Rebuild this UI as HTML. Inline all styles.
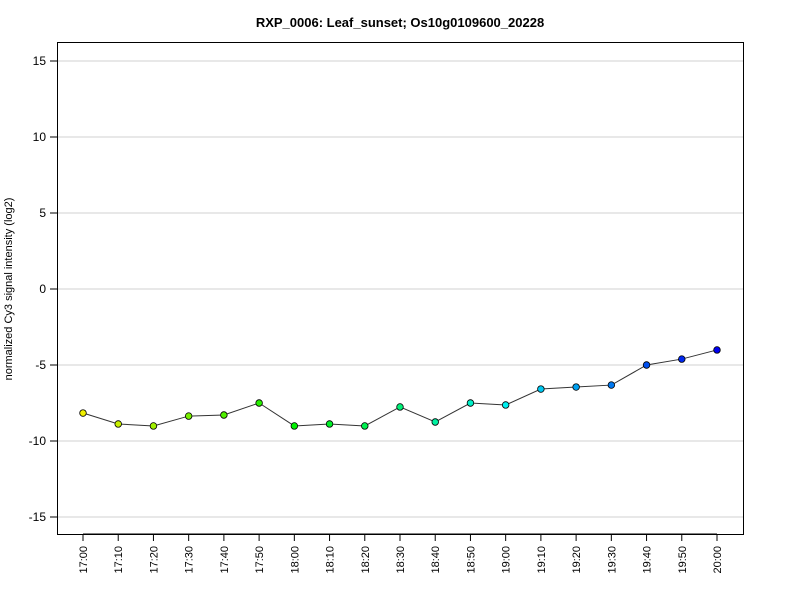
<!DOCTYPE html>
<html><head><meta charset="utf-8"><style>
body{margin:0;background:#fff;font-family:"Liberation Sans",sans-serif;}
</style></head><body>
<svg id="chart" width="800" height="600" xmlns="http://www.w3.org/2000/svg" font-family="Liberation Sans, sans-serif">
<text x="400" y="27" text-anchor="middle" font-size="13" font-weight="bold">RXP_0006: Leaf_sunset; Os10g0109600_20228</text>
<text transform="translate(12,289) rotate(-90)" text-anchor="middle" font-size="11">normalized Cy3 signal intensity (log2)</text>
<g id="grid"></g>
<g id="yaxis"></g>
<g id="xaxis"></g>
<g id="series"></g>
<rect x="57.5" y="42.5" width="686" height="492" fill="none" stroke="#000"/>
</svg>
<script>
const categories=["17:00","17:10","17:20","17:30","17:40","17:50","18:00","18:10","18:20","18:30","18:40","18:50","19:00","19:10","19:20","19:30","19:40","19:50","20:00"];
const values=[-8.16,-8.88,-9.01,-8.36,-8.29,-7.5,-9.01,-8.88,-9.01,-7.76,-8.75,-7.5,-7.63,-6.58,-6.45,-6.32,-5.0,-4.61,-4.01];
const yTicks=[15,10,5,0,-5,-10,-15];
const NS="http://www.w3.org/2000/svg";
function yS(v){return 289-v*15.2;}
function xS(i){return 83+i*(634/(categories.length-1));}
function mk(t,a,p){const e=document.createElementNS(NS,t);for(const k in a)e.setAttribute(k,a[k]);p.appendChild(e);return e;}
const grid=document.getElementById('grid'),ya=document.getElementById('yaxis'),xa=document.getElementById('xaxis'),se=document.getElementById('series');
yTicks.forEach(v=>{const y=yS(v);
const g=mk('line',{x1:57,x2:743,y1:y,y2:y,stroke:'#d0d0d0'},grid);


const t=mk('line',{x1:50,x2:57,y1:y,y2:y,stroke:'#000'},ya);


const l=mk('text',{x:46,y:y+4,'text-anchor':'end','font-size':12},ya);l.textContent=v;


});
mk('line',{x1:xS(0),x2:xS(categories.length-1),y1:534,y2:534,stroke:'#000'},xa);
categories.forEach((c,i)=>{const x=xS(i);
const t=mk('line',{x1:x,x2:x,y1:534,y2:541,stroke:'#000'},xa);


const l=mk('text',{transform:`translate(${x+4},546) rotate(-90)`,'text-anchor':'end','font-size':11},xa);l.textContent=c;


});
const line=mk('polyline',{points:values.map((v,i)=>xS(i)+','+yS(v)).join(' '),fill:'none',stroke:'#333'},se);


values.forEach((v,i)=>{const h=60+180*i/(values.length-1);
const c=mk('circle',{cx:xS(i),cy:yS(v),r:3.3,fill:`hsl(${h},100%,47%)`,stroke:'#000','stroke-width':0.8},se);


});
</script>
</body></html>
